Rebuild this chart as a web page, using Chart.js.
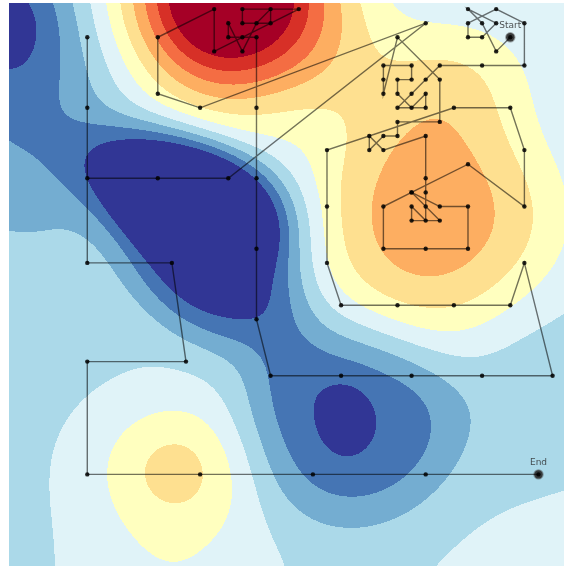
<!DOCTYPE html>
<html>
<head>
<meta charset="utf-8">
<script src="https://cdn.jsdelivr.net/npm/chart.js@4/dist/chart.umd.min.js"></script>
<style>
  html, body { margin: 0; padding: 0; background: #ffffff; }
  canvas { display: block; }
</style>
</head>
<body>
<canvas id="chart" width="564" height="566"></canvas>
<script>
// Search path on the grid, in visiting order (grid units, y grows downward)
const pathX = [30,29,28,27,29,28,27,27,29,31,31,28,25,
  24,23,22,24,24,23,22,22,23,23,21,21,21,22,25,25,22,22,21,20,20,21,24,
  24,24,24,24,23,23,25,23,25,27,27,24,21,21,23,27,31,31,30,26,
  17,17,17,18,22,26,30,31,33,28,23,18,13,
  12,12,12,12,12,11,10,10,11,12,13,13,11,11,15,9,9,5,5,8,
  24,10,5,0,0,0,0,6,7,0,0,8,16,24,32];
const pathY = [0,1,-1,-2,-1,0,0,-1,-2,-1,2,2,2,
  3,4,5,5,4,5,4,3,3,2,2,3,4,0,3,6,6,7,7,8,7,8,7,
  10,11,12,13,12,13,13,11,12,12,15,15,15,12,11,9,12,8,5,5,
  8,12,16,19,19,19,19,16,24,24,24,24,24,
  20,15,10,5,0,0,0,-1,1,-1,-2,-1,-1,-2,-2,1,-2,0,4,5,
  -1,10,10,10,5,0,16,16,23,23,31,31,31,31,31];

// Visible window of the surface (grid units)
const xRange = [-5.553, 33.809];
const yRange = [-2.433, 37.496];

// Filled contour bands, lowest to highest
const levelColors = ['#313695','#4575b4','#74add1','#abd9e9','#e0f3f8','#ffffbf',
                     '#fee090','#fdae61','#f46d43','#d73027','#a50026'];

// Surface = baseLevel + sum of rotated bumps exp(-0.5 * m^pow), m = scaled squared distance
// (centres and spreads in grid units)
const baseLevel = 3.8;
const bumpX     = [ 9.84, 16.50, -5.84, -4.42,  6.93,  8.57, 24.45, 18.98, 26.43, 36.36, 33.80, 32.11, 18.62, 18.28, 14.02, 6.29, 6.01, 37.78];
const bumpY     = [-3.00, -1.94, -1.58,  3.74, 10.84, 15.09, 12.96,  2.67,  2.67, -6.19, 14.38, 24.30, 27.50, 27.00, 21.82, 30.48, 38.49, 42.74];
const bumpAmp   = [ 9.0,   0.5,  -1.9,  -2.0,  -4.1,  -4.1,   3.7,   0.9,   1.5,   0.3,   0.4,  -0.6,  -2.6,  -1.0,  -0.7,  2.4,  0.9,  1.2];
const bumpSx    = [ 4.96,  2.84,  2.84,  5.32,  6.03,  5.67,  6.52,  3.90,  3.90, 10.64,  2.84,  5.67,  6.03,  1.28,  2.13, 3.90, 4.61, 7.80];
const bumpSy    = [ 5.11,  3.55,  3.19,  7.45,  3.19,  4.11,  6.74,  3.55,  3.19, 10.64,  4.96,  5.67,  5.67,  1.70,  3.19, 3.40, 4.26, 7.80];
const bumpAngle = [ 0,     0,     0,     0,    18,    50,     0,     0,     0,     0,     0,     0,     0,     0,     0,    0,    0,    0];
const bumpPow   = [ 1,     1,     1,     1,     1.5,   1.5,   1.4,   1,     1,     1,     1,     1,     1.6,   1,     1,    1,    1,    1];

function surface(u, v) {
  let f = baseLevel;
  for (let i = 0; i < bumpX.length; i++) {
    const a = bumpAngle[i] * Math.PI / 180;
    const dx = u - bumpX[i], dy = v - bumpY[i];
    const p = (dx * Math.cos(a) + dy * Math.sin(a)) / bumpSx[i];
    const q = (-dx * Math.sin(a) + dy * Math.cos(a)) / bumpSy[i];
    f += bumpAmp[i] * Math.exp(-0.5 * Math.pow(p * p + q * q, bumpPow[i]));
  }
  return f;
}

const pathPoints = pathX.map((x, i) => ({ x, y: pathY[i] }));
const startPoint = pathPoints[0];
const endPoint = pathPoints[pathPoints.length - 1];

function hexToRgb(h) {
  return [parseInt(h.slice(1, 3), 16), parseInt(h.slice(3, 5), 16), parseInt(h.slice(5, 7), 16)];
}

// Paints the contour bands under the datasets, pixel by pixel through the scales
const surfacePlugin = {
  id: 'surface',
  beforeDatasetsDraw(chart) {
    const { ctx, chartArea: a, scales: { x, y } } = chart;
    const w = Math.round(a.right - a.left), h = Math.round(a.bottom - a.top);
    const off = document.createElement('canvas');
    off.width = w; off.height = h;
    const octx = off.getContext('2d');
    const img = octx.createImageData(w, h);
    const rgb = levelColors.map(hexToRgb);
    const top = levelColors.length - 1;
    for (let j = 0; j < h; j++) {
      const v = y.getValueForPixel(a.top + j + 0.5);
      for (let i = 0; i < w; i++) {
        const u = x.getValueForPixel(a.left + i + 0.5);
        let k = Math.floor(surface(u, v));
        if (k < 0) k = 0; if (k > top) k = top;
        const c = rgb[k], o = (j * w + i) * 4;
        img.data[o] = c[0]; img.data[o + 1] = c[1]; img.data[o + 2] = c[2]; img.data[o + 3] = 255;
      }
    }
    octx.putImageData(img, 0, 0);
    ctx.drawImage(off, a.left, a.top);
  }
};

// Start / End captions above their markers
const captionPlugin = {
  id: 'captions',
  afterDatasetsDraw(chart) {
    const { ctx, scales: { x, y } } = chart;
    ctx.save();
    ctx.font = '9px "DejaVu Sans", sans-serif';
    ctx.fillStyle = 'rgba(40,40,40,0.8)';
    ctx.textAlign = 'center';
    ctx.textBaseline = 'bottom';
    ctx.fillText('Start', x.getPixelForValue(startPoint.x), y.getPixelForValue(startPoint.y) - 7);
    ctx.fillText('End', x.getPixelForValue(endPoint.x), y.getPixelForValue(endPoint.y) - 7);
    ctx.restore();
  }
};

new Chart(document.getElementById('chart'), {
  type: 'scatter',
  data: {
    datasets: [
      {
        data: pathPoints,
        showLine: true,
        tension: 0,
        borderColor: 'rgba(0,0,0,0.55)',
        borderWidth: 1.4,
        pointRadius: 2.2,
        pointBackgroundColor: 'rgba(0,0,0,0.85)',
        pointBorderWidth: 0
      },
      {
        data: [startPoint, endPoint],
        pointRadius: 4.2,
        pointBackgroundColor: 'rgba(40,40,40,0.9)',
        pointBorderColor: 'rgba(60,60,60,0.45)',
        pointBorderWidth: 2
      }
    ]
  },
  options: {
    responsive: false,
    animation: false,
    layout: { autoPadding: false, padding: { left: 9, top: 3, right: 0, bottom: 0 } },
    scales: {
      x: { type: 'linear', min: xRange[0], max: xRange[1], display: false },
      y: { type: 'linear', min: yRange[0], max: yRange[1], reverse: true, display: false }
    },
    plugins: { legend: { display: false }, tooltip: { enabled: false } }
  },
  plugins: [surfacePlugin, captionPlugin]
});
</script>
</body>
</html>
